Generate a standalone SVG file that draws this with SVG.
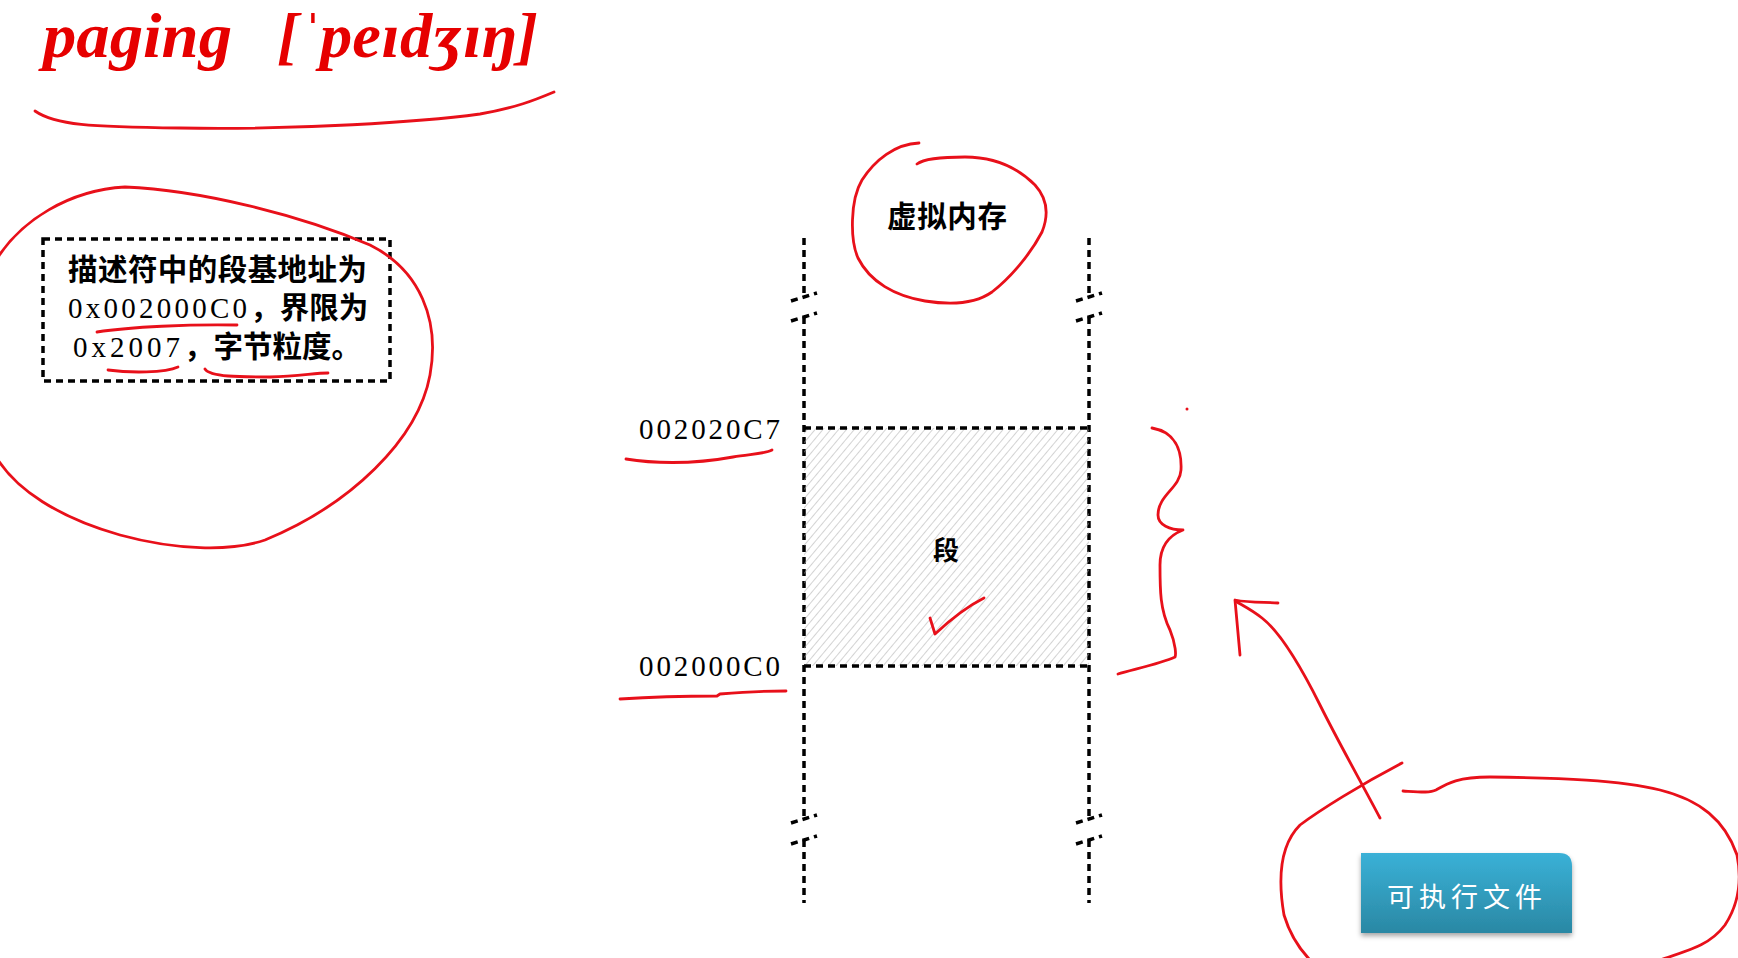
<svg xmlns="http://www.w3.org/2000/svg" width="1738" height="958" viewBox="0 0 1738 958">
<style>
.dash{fill:none;stroke:#000;stroke-width:3.5;stroke-dasharray:7 5}
.ink{fill:none;stroke:#e8101a;stroke-width:2.8;stroke-linecap:round;stroke-linejoin:round}
.cjk{font-family:"Noto Sans CJK SC",sans-serif;font-weight:700;fill:#000}
.num{font-family:"Liberation Serif","Times New Roman",serif;fill:#000;font-size:29px}
</style>
<defs>
<pattern id="hatch" width="6" height="6" patternUnits="userSpaceOnUse" patternTransform="rotate(40)">
<line x1="0" y1="0" x2="0" y2="6" stroke="#a8a8a8" stroke-width="1"/>
</pattern>
<linearGradient id="btn" x1="0" y1="0" x2="0" y2="1">
<stop offset="0" stop-color="#3ab1d7"/>
<stop offset="1" stop-color="#2a88a4"/>
</linearGradient>
<filter id="shadow" x="-10%" y="-10%" width="120%" height="140%">
<feDropShadow dx="0" dy="3" stdDeviation="2.5" flood-color="#000" flood-opacity="0.35"/>
</filter>
</defs>
<rect width="1738" height="958" fill="#fff"/>

<g id="title">
<text x="43" y="57" font-family="Liberation Serif,'Times New Roman',serif" font-weight="700" font-style="italic" font-size="64" fill="#e60000" textLength="189" lengthAdjust="spacingAndGlyphs">paging</text>
<text x="277" y="57" font-family="Liberation Serif,'DejaVu Serif',serif" font-weight="700" font-style="italic" font-size="64" fill="#e60000" textLength="261" lengthAdjust="spacingAndGlyphs">[ˈpeɪdʒɪŋ]</text>
</g>

<g id="descriptor">
<rect class="dash" x="43" y="239" width="347" height="142"/>
<text class="cjk" x="68" y="280" font-size="29.5" textLength="299">描述符中的段基地址为</text>
<text x="68" y="318"><tspan class="num" textLength="179" lengthAdjust="spacing">0x002000C0</tspan><tspan class="cjk" font-size="29.5">，界限为</tspan></text>
<text x="73" y="357"><tspan class="num" textLength="107" lengthAdjust="spacing">0x2007</tspan><tspan class="cjk" font-size="29.5">，字节粒度。</tspan></text>
</g>

<g id="virtual-memory">
<text class="cjk" x="887" y="227" font-size="29.5" textLength="120">虚拟内存</text>
<path class="dash" d="M804,238V297M804,317V818M804,840V903M1089,238V297M1089,317V818M1089,840V903"/>
<path class="dash" d="M791,301L817,293M791,321L817,313M791,823L817,815M791,844L817,836M1076,301L1102,293M1076,321L1102,313M1076,823L1102,815M1076,844L1102,836"/>
</g>

<g id="segment">
<rect x="804" y="428" width="285" height="238" fill="url(#hatch)"/>
<path class="dash" d="M804,428H1089M804,666H1089"/>
<text class="cjk" x="946" y="560" font-size="26" text-anchor="middle" font-weight="500">段</text>
</g>

<g id="labels">
<text class="num" x="639" y="439" textLength="141" lengthAdjust="spacing">002020C7</text>
<text class="num" x="639" y="676" textLength="141" lengthAdjust="spacing">002000C0</text>
</g>

<g id="executable">
<path d="M1361,853H1559Q1572,853 1572,866V933H1361Z" fill="url(#btn)" filter="url(#shadow)"/>
<text x="1387" y="907" font-family="'Noto Sans CJK SC',sans-serif" font-weight="400" font-size="27" fill="#fff" textLength="155" lengthAdjust="spacing">可执行文件</text>
</g>

<g id="connectors">
<path class="ink" d="M35,111C55,125 90,127 180,128C300,130 420,122 480,114C515,108 535,100 554,92"/>
<path class="ink" d="M-5,262C20,220 70,190 125,187C200,190 300,215 370,245C420,270 440,320 430,375C418,440 350,505 265,540C230,552 175,550 120,535C60,518 15,490 -5,455"/>
<path class="ink" d="M97,332C130,327 190,324 237,325"/>
<path class="ink" d="M108,370C130,373 165,373 178,367"/>
<path class="ink" d="M205,369C210,377 240,377 270,377C300,376 315,373 328,373"/>
<path class="ink" d="M919,143C895,144 875,160 862,180C850,200 850,240 858,258C870,282 895,296 925,301C950,305 975,304 992,292C1010,278 1030,255 1042,232C1050,212 1046,197 1035,185C1015,165 990,157 965,157C945,157 925,158 917,164"/>
<path class="ink" d="M626,459C650,463 690,465 733,457C750,454 765,454 772,450"/>
<path class="ink" d="M620,699C650,697 690,696 717,696L720,694C745,692 770,691 786,691"/>
<path class="ink" d="M930,618L935,634C950,620 970,605 984,598"/>
<path class="ink" d="M1152,428C1175,432 1182,450 1181,470C1180,488 1158,495 1158,515C1158,525 1170,530 1183,530C1170,535 1160,545 1160,565C1160,590 1160,610 1170,630C1176,645 1176,655 1175,657C1160,664 1130,670 1118,674"/>
<circle cx="1187" cy="409" r="1.5" fill="#e8101a"/>
<path class="ink" d="M1380,818C1360,780 1340,745 1320,705C1300,665 1280,632 1262,618C1252,610 1242,605 1237,602"/>
<path class="ink" d="M1240,655L1235,600C1250,603 1265,602 1278,603"/>
<path class="ink" d="M1402,763C1360,785 1320,810 1300,825C1280,845 1278,880 1284,915C1290,935 1300,950 1312,962"/>
<path class="ink" d="M1403,791C1420,792 1430,793 1436,790C1448,783 1458,777 1490,777C1560,778 1620,780 1660,790C1700,800 1725,820 1737,855C1742,880 1738,905 1725,925C1710,945 1690,950 1660,960"/>
</g>
</svg>
